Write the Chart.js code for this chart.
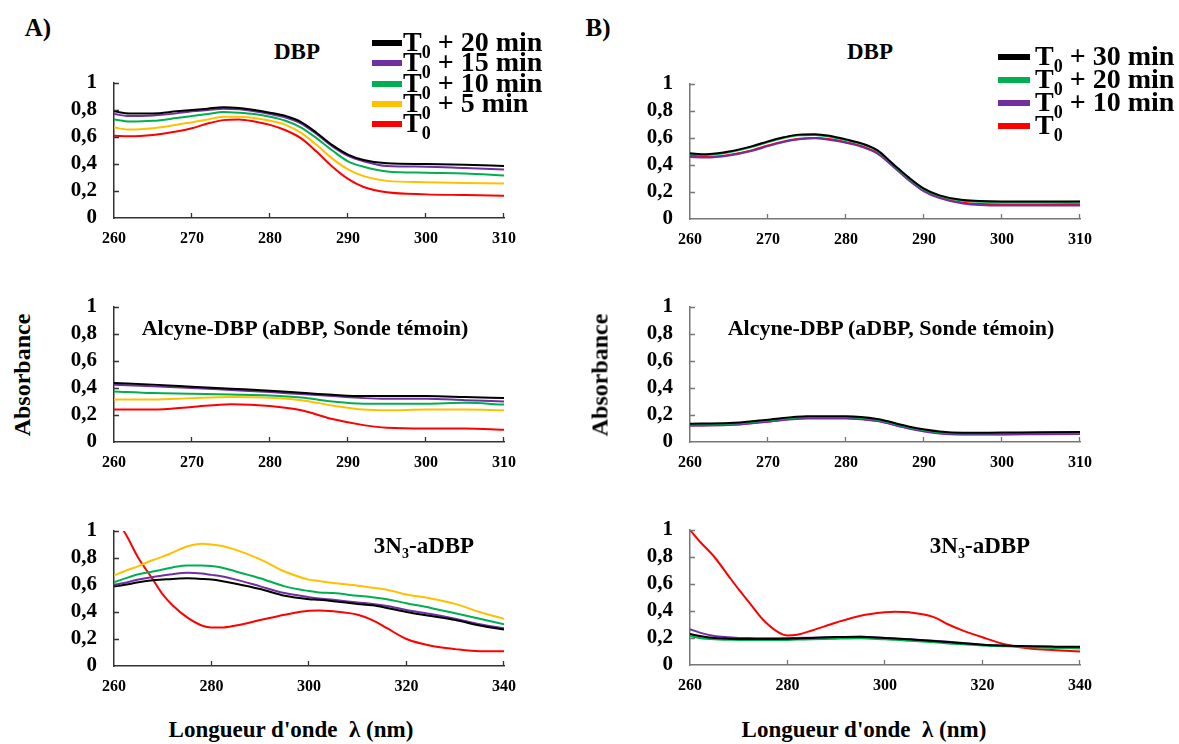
<!DOCTYPE html>
<html>
<head>
<meta charset="utf-8">
<script src="https://cdn.jsdelivr.net/npm/chart.js@4.4.0/dist/chart.umd.min.js"></script>
<style>
  body { margin: 0; background: #fff; }
  #fig { position: relative; width: 1179px; height: 744px; overflow: hidden; font-family: "Liberation Serif", "Times New Roman", Tinos, "DejaVu Serif", serif; font-weight: bold; color: #000; }
  #fig canvas { position: absolute; }
  .txt { position: absolute; white-space: nowrap; transform: translate(-50%, -50%); }
  .rot { transform: translate(-50%, -50%) rotate(-90deg); }
  .leg { position: absolute; white-space: nowrap; font-size: 28px; line-height: 28px; }
  .sw { position: absolute; height: 6px; }
  .sub { font-size: 18px; position: relative; top: 7px; }
</style>
</head>
<body>
<div id="fig">
  <canvas id="a1"></canvas><canvas id="a2"></canvas><canvas id="a3"></canvas>
  <canvas id="b1"></canvas><canvas id="b2"></canvas><canvas id="b3"></canvas>
  <div id="labels"></div>
</div>
<script>
// wavelengths (nm)
const wlDbp = [260, 262, 265, 268, 270, 272, 274, 276, 278, 280, 282, 284, 286, 288, 290, 292, 295, 300, 305, 310];
const wlAlc = [260, 265, 270, 275, 280, 284, 288, 292, 295, 300, 305, 310];
const wlAz = [260, 262, 265, 268, 270, 272, 275, 278, 280, 282, 285, 290, 295, 300, 302, 305, 310, 313, 316, 320, 325, 330, 335, 340];

const yTicks = [0, 0.2, 0.4, 0.6, 0.8, 1];

// A) DBP
const aDbp20 = [.79, .775, .775, .79, .80, .81, .82, .815, .80, .78, .755, .71, .63, .54, .47, .43, .405, .40, .395, .385];
const aDbp15 = [.77, .755, .76, .775, .79, .80, .81, .805, .79, .77, .745, .70, .62, .53, .46, .42, .385, .38, .37, .36];
const aDbp10 = [.73, .715, .72, .74, .755, .77, .785, .78, .77, .75, .72, .67, .59, .50, .42, .38, .345, .335, .33, .315];
const aDbp5 = [.67, .655, .665, .69, .71, .73, .75, .75, .74, .72, .69, .63, .54, .44, .36, .31, .275, .265, .26, .255];
const aDbp0 = [.61, .605, .615, .64, .665, .70, .725, .73, .715, .69, .65, .59, .49, .38, .29, .23, .19, .175, .17, .165];

// A) Alcyne-DBP
const aAlc20 = [.437, .425, .41, .395, .38, .365, .35, .34, .34, .34, .333, .325];
const aAlc15 = [.425, .413, .40, .385, .37, .355, .34, .325, .32, .32, .31, .30];
const aAlc10 = [.375, .363, .358, .352, .345, .33, .30, .284, .284, .284, .29, .277];
const aAlc5 = [.314, .314, .325, .333, .328, .31, .27, .24, .235, .24, .24, .235];
const aAlc0 = [.24, .24, .26, .28, .267, .235, .17, .125, .105, .10, .10, .09];

// A) 3N3-aDBP
const aAz20 = [.59, .60, .62, .635, .64, .645, .65, .645, .64, .63, .61, .57, .52, .495, .49, .48, .46, .45, .43, .40, .37, .34, .30, .27];
const aAz15 = [.60, .615, .64, .66, .67, .68, .69, .685, .675, .665, .64, .59, .54, .51, .50, .49, .47, .46, .445, .415, .385, .35, .31, .28];
const aAz10 = [.62, .645, .68, .70, .715, .73, .745, .745, .74, .73, .70, .65, .59, .555, .545, .54, .52, .51, .495, .465, .43, .39, .35, .31];
const aAz5 = [.67, .70, .74, .785, .81, .84, .885, .905, .90, .89, .86, .79, .70, .64, .63, .615, .595, .58, .565, .53, .50, .46, .40, .35];
const aAz0 = [1.08, 1.0, .80, .64, .53, .45, .36, .30, .285, .285, .30, .34, .38, .41, .412, .405, .38, .34, .28, .20, .15, .125, .11, .11];

// B) DBP
const bDbp30 = [.487, .48, .50, .54, .575, .605, .625, .628, .615, .59, .56, .51, .41, .31, .225, .175, .14, .13, .13, .13];
const bDbp20 = [.482, .475, .495, .535, .57, .60, .62, .623, .61, .585, .555, .505, .405, .305, .22, .17, .135, .125, .125, .127];
const bDbp10 = [.46, .455, .47, .505, .54, .57, .59, .598, .585, .565, .535, .485, .39, .29, .205, .155, .115, .10, .10, .10];
const bDbp0 = [.47, .46, .475, .51, .545, .575, .595, .60, .59, .568, .54, .49, .395, .295, .21, .16, .12, .108, .108, .11];

// B) Alcyne-DBP
const bAlc30 = [.136, .14, .165, .19, .19, .17, .115, .078, .068, .07, .072, .074];
const bAlc20 = [.131, .135, .16, .185, .185, .165, .11, .073, .064, .066, .068, .07];
const bAlc10 = [.12, .125, .15, .175, .175, .155, .10, .063, .056, .056, .058, .06];
const bAlc0 = [.125, .128, .152, .177, .177, .158, .103, .066, .058, .058, .06, .062];

// B) 3N3-aDBP
const bAz30 = [.23, .215, .20, .195, .193, .192, .192, .193, .195, .197, .20, .207, .21, .20, .197, .19, .178, .17, .162, .15, .143, .138, .136, .135];
const bAz20 = [.215, .20, .19, .187, .185, .185, .185, .185, .186, .188, .19, .195, .198, .19, .187, .18, .168, .16, .153, .145, .138, .132, .126, .122];
const bAz10 = [.265, .24, .215, .205, .20, .20, .198, .198, .198, .20, .202, .207, .21, .20, .197, .19, .18, .172, .163, .15, .142, .137, .133, .13];
const bAz0 = [1.0, .915, .80, .655, .56, .47, .335, .245, .218, .224, .255, .315, .365, .39, .395, .39, .355, .30, .255, .205, .15, .12, .11, .10];

const BLACK = '#000000', PURPLE = '#7030A0', GREEN = '#00B050', YELLOW = '#FFC000', RED = '#FF0000';

const legA = [['T', '0', ' + 20 min', BLACK], ['T', '0', ' + 15 min', PURPLE], ['T', '0', ' + 10 min', GREEN], ['T', '0', ' + 5 min', YELLOW], ['T', '0', '', RED]];
const legB = [['T', '0', ' + 30 min', BLACK], ['T', '0', ' + 20 min', GREEN], ['T', '0', ' + 10 min', PURPLE], ['T', '0', '', RED]];

const FONT = '"Liberation Serif", "Times New Roman", Tinos, "DejaVu Serif", serif';

function pts(wl, vals) {
    return wl.map((w, i) => ({ x: w, y: vals[i] }));
}

// short tick marks pointing into the plot, like the original
const innerTicks = {
    id: 'innerTicks',
    afterDraw(chart) {
        const { ctx, chartArea, scales } = chart;
        ctx.save();
        ctx.strokeStyle = chart.options.scales.x.border.color;
        ctx.lineWidth = 1.3;
        ctx.beginPath();
        yTicks.forEach(v => {
            if (v === 0) return;
            const y = Math.round(scales.y.getPixelForValue(v)) + 0.5;
            ctx.moveTo(chartArea.left, y);
            ctx.lineTo(chartArea.left + 5, y);
        });
        scales.x.ticks.forEach(t => {
            if (t.value === scales.x.min) return;
            const x = Math.round(scales.x.getPixelForValue(t.value)) - 0.5;
            ctx.moveTo(x, chartArea.bottom);
            ctx.lineTo(x, chartArea.bottom - 5);
        });
        ctx.stroke();
        ctx.restore();
    }
};

function panel(id, left, top, xmax, xstep, series, axisColor) {
    const el = document.getElementById(id);
    el.width = 476; el.height = 185;
    el.style.width = '476px'; el.style.height = '185px';
    el.style.left = left + 'px';
    el.style.top = top + 'px';
    new Chart(el, {
        type: 'line',
        data: {
            datasets: series.map(s => ({
                data: pts(s[0], s[1]),
                borderColor: s[2],
                borderWidth: 2,
                pointRadius: 0,
                fill: false,
                cubicInterpolationMode: 'monotone'
            }))
        },
        options: {
            responsive: false,
            animation: false,
            devicePixelRatio: 1,
            layout: { padding: { top: 10, right: 16, left: 0, bottom: 0 } },
            plugins: { legend: { display: false }, tooltip: { enabled: false } },
            scales: {
                x: {
                    type: 'linear', min: 260, max: xmax,
                    afterFit: s => { s.height = 40; s.paddingLeft = 0; s.paddingRight = 0; },
                    afterBuildTicks: s => {
                        const t = [];
                        for (let v = 260; v <= xmax; v += xstep) t.push({ value: v });
                        s.ticks = t;
                    },
                    grid: { display: false, drawTicks: false },
                    border: { color: axisColor, width: 1.5 },
                    ticks: { color: '#000', padding: 11, maxRotation: 0, autoSkip: false,
                        font: { family: FONT, size: 16, weight: 'bold' } }
                },
                y: {
                    min: 0, max: 1,
                    afterFit: s => { s.width = 70; s.paddingTop = 0; s.paddingBottom = 0; },
                    afterBuildTicks: s => { s.ticks = yTicks.map(v => ({ value: v })); },
                    grid: { display: false, drawTicks: false },
                    border: { color: axisColor, width: 1.5 },
                    ticks: { color: '#000', padding: 17, autoSkip: false,
                        font: { family: FONT, size: 21, weight: 'bold' },
                        callback: v => (v === 0 || v === 1) ? String(v) : v.toFixed(1).replace('.', ',') }
                }
            }
        },
        plugins: [innerTicks]
    });
}

const AX_A = '#333333', AX_B = '#777777';
panel('a1', 44, 73, 310, 10, [[wlDbp, aDbp20, BLACK], [wlDbp, aDbp15, PURPLE], [wlDbp, aDbp10, GREEN], [wlDbp, aDbp5, YELLOW], [wlDbp, aDbp0, RED]], AX_A);
panel('a2', 44, 297, 310, 10, [[wlAlc, aAlc20, BLACK], [wlAlc, aAlc15, PURPLE], [wlAlc, aAlc10, GREEN], [wlAlc, aAlc5, YELLOW], [wlAlc, aAlc0, RED]], AX_A);
panel('a3', 44, 521, 340, 20, [[wlAz, aAz20, BLACK], [wlAz, aAz15, PURPLE], [wlAz, aAz10, GREEN], [wlAz, aAz5, YELLOW], [wlAz, aAz0, RED]], AX_A);
panel('b1', 620, 74, 310, 10, [[wlDbp, bDbp30, BLACK], [wlDbp, bDbp20, GREEN], [wlDbp, bDbp10, PURPLE], [wlDbp, bDbp0, RED]], AX_B);
panel('b2', 620, 297, 310, 10, [[wlAlc, bAlc30, BLACK], [wlAlc, bAlc20, GREEN], [wlAlc, bAlc10, PURPLE], [wlAlc, bAlc0, RED]], AX_B);
panel('b3', 620, 520, 340, 20, [[wlAz, bAz30, BLACK], [wlAz, bAz20, GREEN], [wlAz, bAz10, PURPLE], [wlAz, bAz0, RED]], AX_B);

// text
const labels = document.getElementById('labels');
function txt(s, x, y, size, cls) {
    const d = document.createElement('div');
    d.className = 'txt' + (cls ? ' ' + cls : '');
    d.style.left = x + 'px';
    d.style.top = y + 'px';
    d.style.fontSize = size + 'px';
    d.innerHTML = s;
    labels.appendChild(d);
}
txt('A)', 38, 28, 25);
txt('B)', 598, 28, 25);
txt('DBP', 297, 52, 23);
txt('DBP', 870, 52, 23);
txt('Alcyne-DBP (aDBP, Sonde témoin)', 305, 328, 22);
txt('Alcyne-DBP (aDBP, Sonde témoin)', 891, 328, 22);
txt('3N<span style="font-size:14px;position:relative;top:5px">3</span>-aDBP', 424, 546, 23);
txt('3N<span style="font-size:14px;position:relative;top:5px">3</span>-aDBP', 980, 546, 23);
txt('Absorbance', 22, 375, 24, 'rot');
txt('Absorbance', 600, 375, 24, 'rot');
txt('Longueur d\'onde&nbsp; λ (nm)', 291, 730, 23);
txt('Longueur d\'onde&nbsp; λ (nm)', 864, 730, 23);

function legend(rows, swLeft, swRight, textLeft, y0, dy) {
    rows.forEach((r, i) => {
        const cy = y0 + i * dy;
        const sw = document.createElement('div');
        sw.className = 'sw';
        sw.style.left = swLeft + 'px';
        sw.style.width = (swRight - swLeft) + 'px';
        sw.style.top = (cy - 3) + 'px';
        sw.style.background = r[3];
        labels.appendChild(sw);
        const t = document.createElement('div');
        t.className = 'leg';
        t.style.left = textLeft + 'px';
        t.style.top = (cy - 15) + 'px';
        t.innerHTML = r[0] + '<span class="sub">' + r[1] + '</span>' + r[2];
        labels.appendChild(t);
    });
}
legend(legA, 372, 402, 403, 43, 20.3);
legend(legB, 998, 1030, 1035, 57, 23);
</script>
</body>
</html>
